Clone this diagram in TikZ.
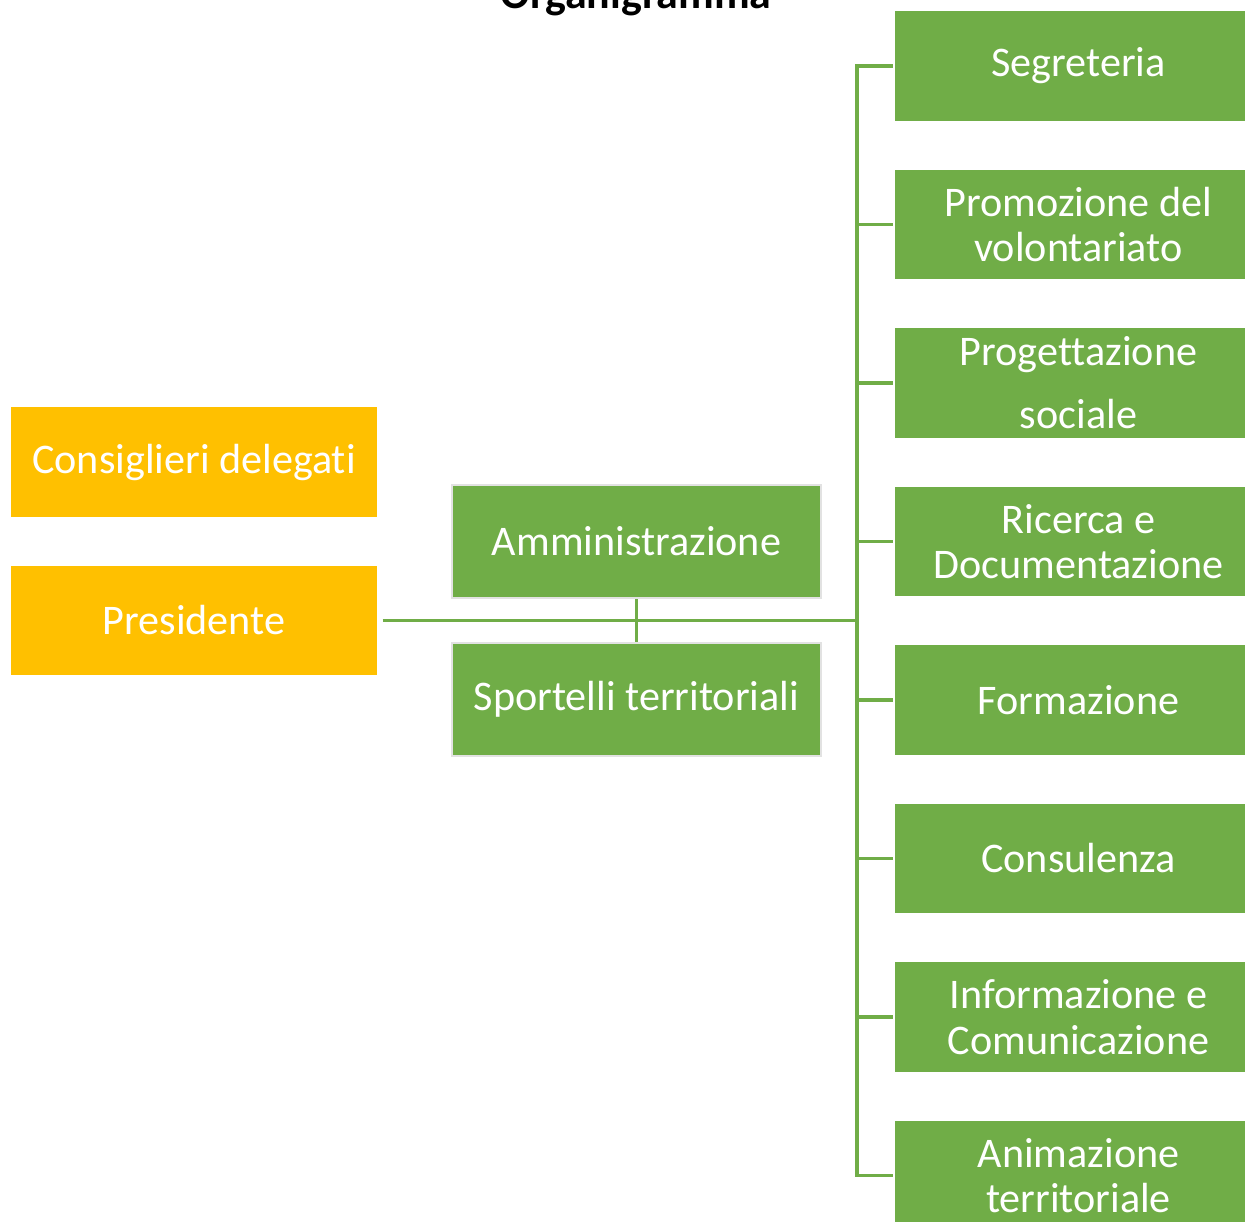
\documentclass[tikz,border=0pt]{standalone}
\usepackage{fontspec}
\setmainfont[Ligatures=NoCommon]{Carlito}
\definecolor{vgreen}{HTML}{70AD47}
\definecolor{vyellow}{HTML}{FFC000}
\definecolor{vborder}{HTML}{E2E2E2}
\begin{document}
\begin{tikzpicture}[x=0.02cm,y=-0.02cm,
  box/.style={rectangle, inner sep=0pt, text=white, align=center,
    font=\fontsize{24}{26}\selectfont},
  rbox/.style={box, fill=vgreen, minimum width=7.34cm, minimum height=2.2cm},
  ybox/.style={box, fill=vyellow, minimum width=7.32cm, minimum height=2.2cm},
  mbox/.style={box, fill=vgreen, draw=vborder, line width=1.3pt, minimum width=7.38cm, minimum height=2.26cm},
  link/.style={draw=vgreen, line width=1.9pt}]
\clip (0,0) rectangle (1245,1222);
\fill[white] (0,0) rectangle (1245,1222);
\node[anchor=base, font=\fontsize{25}{28}\selectfont\bfseries] (title) at (636,9) {Organigramma};
% left column
\node[ybox] (cons) at (194,462) {Consiglieri delegati};
\node[ybox] (pres) at (194,620.5) {Presidente};
% middle
\node[mbox] (amm) at (636.5,541.5) {Amministrazione};
\node[mbox] (sport) at (636.5,699.5) {Sportelli territoriali};
% right column
\node[rbox] (seg)  at (1078.5,66)   {Segreteria};
\node[rbox] (prom) at (1078.5,224.5) {Promozione del\\volontariato};
\node[rbox] (prog) at (1078.5,383)  {Progettazione\\[10pt]sociale};
\node[rbox] (ric)  at (1078.5,541.5) {Ricerca e\\Documentazione};
\node[rbox] (form) at (1078.5,700)  {Formazione};
\node[rbox] (cons2) at (1078.5,858.5) {Consulenza};
\node[rbox] (inf)  at (1078.5,1017) {Informazione e\\Comunicazione};
\node[rbox] (anim) at (1078.5,1175.5) {Animazione\\territoriale};
% connectors
\coordinate (hub) at (857,620.5);
\coordinate (top) at (857,66);
\coordinate (bot) at (857,1175.5);
\draw[link] ([xshift=3pt]pres.east) -- (hub);
\draw[link] (amm.south) -- (sport.north);
\draw[link] ([yshift=0.95pt]top) -- ([yshift=-0.95pt]bot);
\foreach \n in {seg,prom,prog,ric,form,cons2,inf,anim}{
  \draw[link] (\n.west -| hub) -- ([xshift=-1pt]\n.west);
}
\end{tikzpicture}
\end{document}
